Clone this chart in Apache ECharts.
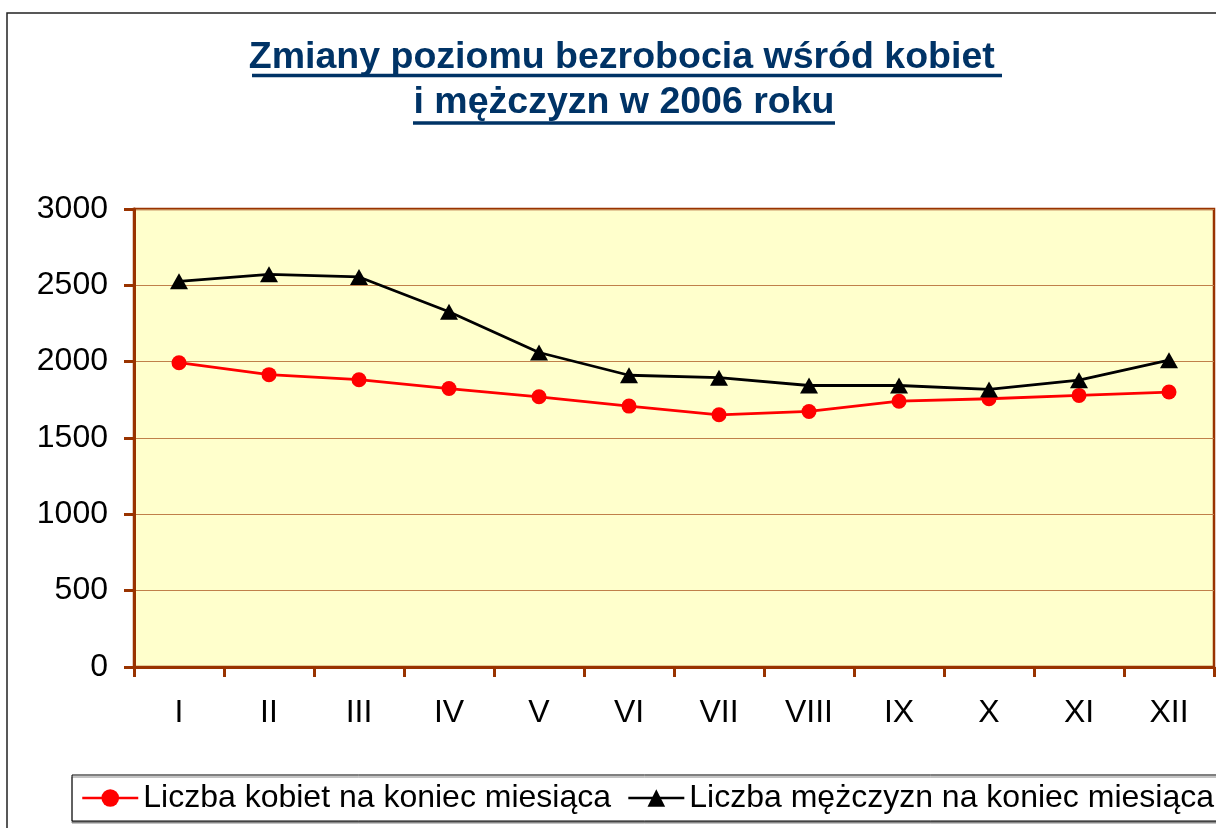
<!DOCTYPE html>
<html>
<head>
<meta charset="utf-8">
<script src="https://cdn.jsdelivr.net/npm/echarts@6/dist/echarts.min.js"></script>
<style>
html,body{margin:0;padding:0;background:#fff;}
#chart{width:1216px;height:828px;}
</style>
</head>
<body>
<div id="chart"></div>
<script>
const categories = ['I','II','III','IV','V','VI','VII','VIII','IX','X','XI','XII'];
const women = [1993, 1915, 1882, 1824, 1770, 1709, 1652, 1674, 1741, 1757, 1779, 1801];
const men = [2526, 2572, 2555, 2327, 2060, 1911, 1895, 1844, 1844, 1818, 1879, 2010];
const seriesNames = ['Liczba kobiet na koniec miesiąca', 'Liczba mężczyzn na koniec miesiąca'];
const titleLines = ['Zmiany poziomu bezrobocia wśród kobiet ', 'i mężczyzn w 2006 roku'];

const FONT = "'Liberation Sans', Arial, sans-serif";
const brown = '#993300';
const titleColor = '#003366';

const chart = echarts.init(document.getElementById('chart'));
chart.setOption({
  animation: false,
  backgroundColor: '#ffffff',
  textStyle: { fontFamily: FONT },
  graphic: [
    { type: 'rect', shape: { x: 7, y: 13, width: 1400, height: 1000 }, style: { fill: 'none', stroke: '#222', lineWidth: 1.5 }, silent: true },
    { type: 'text', x: 627, y: 58, style: { text: titleLines[0], fontFamily: FONT, fontSize: 37.5, fontWeight: 'bold', fill: titleColor, align: 'center', verticalAlign: 'middle' } },
    { type: 'text', x: 624, y: 103, style: { text: titleLines[1], fontFamily: FONT, fontSize: 37.5, fontWeight: 'bold', fill: titleColor, align: 'center', verticalAlign: 'middle' } },
    { type: 'line', shape: { x1: 252, y1: 75.5, x2: 1002, y2: 75.5 }, style: { stroke: titleColor, lineWidth: 3.5 } },
    { type: 'line', shape: { x1: 413, y1: 123, x2: 835, y2: 123 }, style: { stroke: titleColor, lineWidth: 3.5 } }
  ],
  grid: {
    left: 134, top: 209, right: 2, bottom: 161,
    show: true, backgroundColor: '#FFFFCC', borderColor: brown, borderWidth: 2.5
  },
  legend: {
    left: 72, top: 775,
    width: 1400,
    orient: 'horizontal',
    padding: [7, 60, 7, 9],
    itemGap: 16,
    itemWidth: 56, itemHeight: 22,
    borderColor: '#000', borderWidth: 1,
    backgroundColor: '#fff',
    shadowColor: '#888', shadowOffsetY: 2, shadowOffsetX: 0, shadowBlur: 0,
    lineStyle: { width: 2.5 },
    textStyle: { fontFamily: FONT, fontSize: 32, color: '#000' },
    data: seriesNames
  },
  xAxis: {
    type: 'category',
    data: categories,
    boundaryGap: true,
    axisLine: { lineStyle: { color: brown, width: 3 } },
    axisTick: { show: true, length: 10, lineStyle: { color: brown, width: 3 } },
    axisLabel: { color: '#000', fontFamily: FONT, fontSize: 32, margin: 30 },
    splitLine: { show: false }
  },
  yAxis: {
    type: 'value',
    min: 0, max: 3000, interval: 500,
    axisLine: { show: true, lineStyle: { color: brown, width: 3 } },
    axisTick: { show: true, length: 10, lineStyle: { color: brown, width: 3 } },
    axisLabel: { color: '#000', fontFamily: FONT, fontSize: 32, margin: 26, formatter: function (v) { return String(v); } },
    splitLine: { show: true, lineStyle: { color: '#C0804A', width: 1 } }
  },
  series: [
    {
      name: seriesNames[0], type: 'line', data: women,
      symbol: 'circle', symbolSize: 15,
      lineStyle: { color: '#FF0000', width: 2.8 },
      itemStyle: { color: '#FF0000' }
    },
    {
      name: seriesNames[1], type: 'line', data: men,
      symbol: 'triangle', symbolSize: [18, 16],
      lineStyle: { color: '#000000', width: 2.8 },
      itemStyle: { color: '#000000' }
    }
  ]
});
</script>
</body>
</html>
